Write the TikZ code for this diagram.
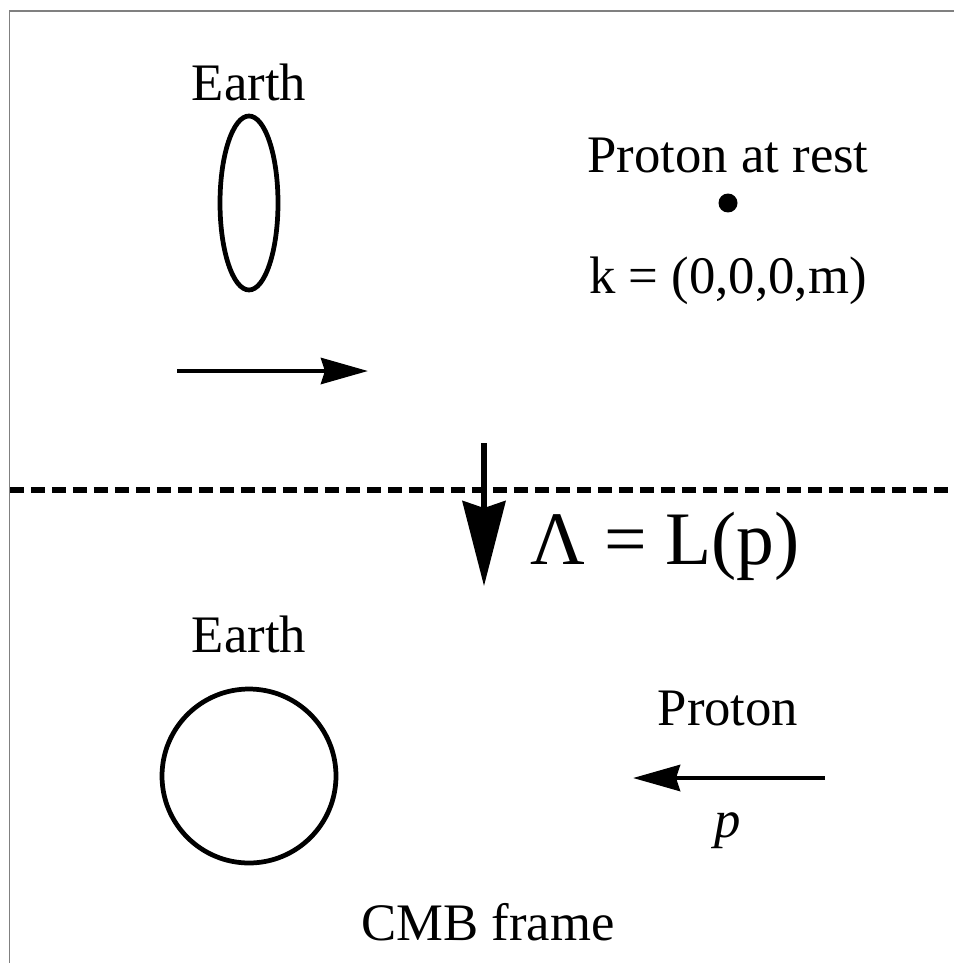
\documentclass[tikz,border=0pt]{standalone}
\usepackage{fontspec}
\setmainfont{Liberation Serif}
\usetikzlibrary{positioning, arrows.meta, shapes, calc}

\begin{document}
\begin{tikzpicture}[
		x=0.02cm, y=-0.02cm,
		% Define Node Styles
		label/.style={anchor=base, inner sep=0, font=\fontsize{30}{36}\selectfont},
		biglabel/.style={label, anchor=base west, font=\fontsize{43}{52}\selectfont},
		earth/.style={draw, line width=2.7pt, inner sep=0},
		% Define Arrow Styles
		motion/.style={-{Stealth[length=0.94cm, width=0.52cm, inset=0.08cm]}, line width=2.7pt},
		boost/.style={-{Stealth[length=1.7cm, width=0.86cm, inset=0.14cm]}, line width=3pt},
		frameline/.style={dash pattern=on 0.29cm off 0.13cm, line width=2.9pt}
		]
		\useasboundingbox (0,0) rectangle (954,963);
		\draw[gray, line width=0.6pt] (9.5,963) -- (9.5,11) -- (954,11);

		% Earth frame (top)
		\node[label] (earthtoplbl) at (249,101) {Earth};
		\node[earth, ellipse, minimum width=1.16cm, minimum height=3.48cm] (earthtop) at (249,203) {};
		\coordinate (earthtail) at (177,371);
		\coordinate (earthhead) at (368,371);
		\draw[motion] (earthtail) -- (earthhead);

		\node[label] (restlbl) at (728,173) {Proton at rest};
		\node[circle, fill, minimum size=0.38cm, inner sep=0] (restdot) at (728,203) {};
		\node[label] (klbl) at (728,293) {k = (0,0,0,m)};

		% Divider and boost
		\coordinate (divleft) at (10,490);
		\coordinate (divright) at (954,490);
		\draw[frameline] (divleft) -- (divright);
		\coordinate (boosttail) at (484,443);
		\coordinate (boosthead) at (484,586);
		\draw[boost] (boosttail) -- (boosthead);
		\node[biglabel] (boostlbl) at (530,564) {Λ = L(p)};

		% CMB frame (bottom)
		\node[label] (earthbotlbl) at (249,652) {Earth};
		\node[earth, circle, minimum size=3.48cm] (earthbot) at (249,776) {};

		\node[label] (protonlbl) at (728,725) {Proton};
		\coordinate (protontail) at (825,778);
		\coordinate (protonhead) at (633,778);
		\draw[motion] (protontail) -- (protonhead);
		\node[label] (plbl) at (728,837) {\textit{p}};

		\node[label] (cmblbl) at (488,940) {CMB frame};
\end{tikzpicture}
\end{document}
